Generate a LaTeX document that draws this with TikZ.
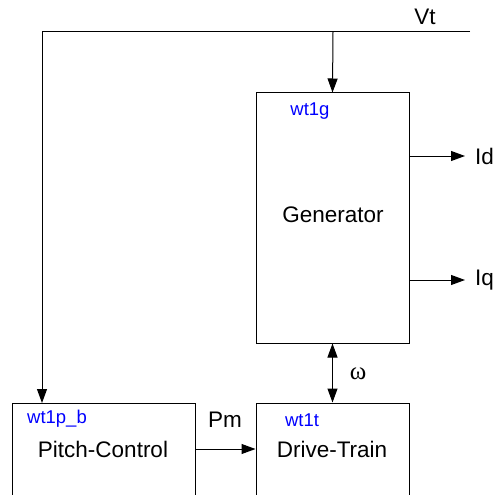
\documentclass[tikz,border=0pt]{standalone}
\usepackage{fontspec}
\setmainfont{Liberation Sans}
\newfontfamily\symfont{Liberation Serif}
\usetikzlibrary{arrows.meta,calc}
\tikzset{
  blk/.style={draw, line width=1pt, inner sep=0pt},
  tag/.style={text=blue, inner sep=0pt, font=\fontsize{18.5}{22}\selectfont},
  sig/.style={inner sep=0pt, font=\fontsize{22.5}{27}\selectfont},
  tip/.tip={Triangle[length=14pt,width=10pt]},
  wire/.style={line width=1pt, -tip}
}
\begin{document}
\begin{tikzpicture}[x=1pt, y=-1pt]
  \useasboundingbox (0,0) rectangle (496,495);
  \clip (0,0) rectangle (496,495);
  % blocks
  \node[blk, minimum width=153, minimum height=250] (gen) at (332.5,218) {};
  \node[blk, minimum width=183, minimum height=130] (pitch) at (103.5,468) {};
  \node[blk, minimum width=153, minimum height=130] (drive) at (332.5,468) {};
  \node[sig] (gentxt) at (333,215) {Generator};
  \node[sig] (pitchtxt) at (103,449) {Pitch-Control};
  \node[sig] (drivetxt) at (332,449) {Drive-Train};
  \node[tag] (wt1g) at (310,111) {wt1g};
  \node[tag] (wt1p) at (57,419) {wt1p\_b};
  \node[tag] (wt1t) at (302,420) {wt1t};
  % signals
  \coordinate (vtin) at (470,32);
  \coordinate (vtsplit) at (333,32);
  \coordinate (vtcorner) at (42,32);
  \coordinate (pitchin) at (42,403);
  \node[sig] (vt) at (425,17) {Vt};
  \node[sig, anchor=west] (id) at (475,156) {Id};
  \node[sig, anchor=west] (iq) at (475,280) {Iq};
  \node[sig] (pm) at (225,420) {Pm};
  \node[sig, font=\symfont\fontsize{25}{28}\selectfont] (omega) at (358,374) {ω};
  \draw[line width=1pt] (vtin) -- (vtcorner);
  \draw[wire] (vtcorner) -- (pitchin);
  \draw[wire] (vtsplit) -- (gen.north);
  \draw[wire] (gen.east |- id) -- ([xshift=-10pt]id.west);
  \draw[wire] (gen.east |- iq) -- ([xshift=-10pt]iq.west);
  \draw[wire] (pitch.east |- pitchtxt) -- (drive.west |- pitchtxt);
  \draw[wire, tip-tip] (gen.south) -- (drive.north);
\end{tikzpicture}
\end{document}
